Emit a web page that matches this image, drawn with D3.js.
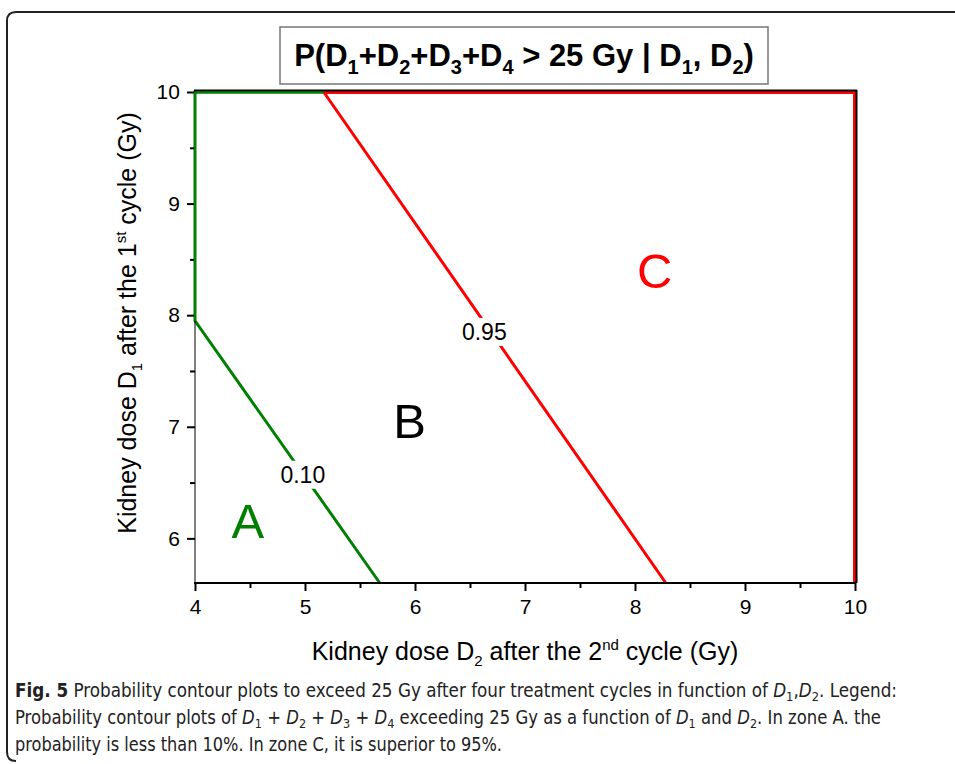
<!DOCTYPE html>
<html><head><meta charset="utf-8">
<script src="https://cdn.jsdelivr.net/npm/d3@7"></script>
<style>
body{margin:0;background:#fff;}
svg{display:block;font-family:"Liberation Sans",Arial,sans-serif;}
</style></head>
<body>
<svg id="chart" width="955" height="764"></svg>
<script>
// ---- data ----
const xTicks = [4,5,6,7,8,9,10];
const yTicks = [6,7,8,9,10];
const xDomain = [4,10];
const yDomain = [5.6,10];
// contour 0.10 (green): D2, D1 pairs
const contour010D2 = [5.17,4,4,5.68];
const contour010D1 = [10,10,7.95,5.6];
// contour 0.95 (red)
const contour095D2 = [5.17,8.28];
const contour095D1 = [10,5.6];
const contour095EdgeD2 = [5.17,10,10];
const contour095EdgeD1 = [10,10,5.6];
const contourLabels = ["0.10","0.95"];
const contourLabelD2 = [4.98,6.63];
const contourLabelD1 = [6.57,7.85];
const zoneNames = ["A","B","C"];
const zoneD2 = [4.48,5.95,8.18];
const zoneD1 = [6.0,6.9,8.24];

const svg = d3.select("#chart");
const W=955,H=764;
const m={l:195,r:855,t:92,b:583};
const x=d3.scaleLinear().domain(xDomain).range([m.l,m.r]);
const y=d3.scaleLinear().domain(yDomain).range([m.b,m.t]);

// outer frame with rounded left corners
svg.append("path")
 .attr("d",`M ${W+5} 12 L 16 12 Q 7 12 7 21 L 7 752 Q 7 761 16 761`)
 .attr("fill","none").attr("stroke","#222").attr("stroke-width",2);

// title box
svg.append("rect").attr("x",280).attr("y",27).attr("width",488).attr("height",57)
 .attr("fill","#fff").attr("stroke","#777").attr("stroke-width",1.5);
const tt=svg.append("text").attr("x",524).attr("y",66).attr("text-anchor","middle")
 .attr("font-size",31).attr("font-weight","bold");
const titleParts=[["P(D",""],["1","sub"],["+D",""],["2","sub"],["+D",""],["3","sub"],["+D",""],["4","sub"],[" > 25 Gy | D",""],["1","sub"],[", D",""],["2","sub"],[")",""]];
titleParts.forEach(([t,s],i)=>{
  const ts=tt.append("tspan").text(t);
  if(s==="sub"){ts.attr("font-size",20).attr("dy",8);}
  else if(i>0 && titleParts[i-1][1]==="sub"){ts.attr("dy",-8);}
});

// contour lines
const line=d3.line().x(d=>x(d[0])).y(d=>y(d[1]));
const g010=d3.zip(contour010D2,contour010D1);
const g095=d3.zip(contour095D2,contour095D1);
const g095e=d3.zip(contour095EdgeD2,contour095EdgeD1);
svg.append("path").attr("d",line(g095e)).attr("fill","none").attr("stroke","#ff0000").attr("stroke-width",4);
svg.append("path").attr("d",line(g010)).attr("fill","none").attr("stroke","#008000").attr("stroke-width",3);
svg.append("path").attr("d",line(g095)).attr("fill","none").attr("stroke","#ff0000").attr("stroke-width",3);

// axes
const xAxis=d3.axisBottom(x).tickValues(xTicks).tickSize(8).tickFormat(d3.format("d"));
const xMinor=d3.axisBottom(x).tickValues(d3.range(4.5,10,1)).tickSize(5).tickFormat("");
const yAxis=d3.axisLeft(y).tickValues(yTicks).tickSize(8).tickFormat(d3.format("d"));
const yMinor=d3.axisLeft(y).tickValues([6.5,7.5,8.5,9.5]).tickSize(5).tickFormat("");
function styleAx(g){g.attr("font-size",21).attr("font-family","Liberation Sans, Arial, sans-serif");
  g.select(".domain").remove();g.selectAll("line").attr("stroke","#000").attr("stroke-width",2);
  g.selectAll("text").attr("fill","#000");}
svg.append("g").attr("transform",`translate(0,${m.b})`).call(xAxis).call(styleAx).selectAll("text").attr("dy","0.95em");
svg.append("g").attr("transform",`translate(0,${m.b})`).call(xMinor).call(styleAx);
svg.append("g").attr("transform",`translate(${m.l},0)`).call(yAxis).call(styleAx).selectAll("text").attr("dx","-0.2em");
svg.append("g").attr("transform",`translate(${m.l},0)`).call(yMinor).call(styleAx);
// frame
svg.append("line").attr("x1",m.l-1).attr("x2",m.r+1).attr("y1",m.b).attr("y2",m.b).attr("stroke","#000").attr("stroke-width",2);
svg.append("line").attr("x1",m.l).attr("x2",m.l).attr("y1",m.t).attr("y2",m.b).attr("stroke","#000").attr("stroke-width",1);
svg.append("line").attr("x1",m.l).attr("x2",m.l).attr("y1",y(7.95)).attr("y2",m.t).attr("stroke","#008000").attr("stroke-width",2);
svg.append("line").attr("x1",m.l-1).attr("x2",m.r+2).attr("y1",m.t-1.5).attr("y2",m.t-1.5).attr("stroke","#000").attr("stroke-width",2);
svg.append("line").attr("x1",m.r+1.5).attr("x2",m.r+1.5).attr("y1",m.t-2).attr("y2",m.b).attr("stroke","#000").attr("stroke-width",2);
svg.append("line").attr("x1",m.l).attr("x2",x(5.17)).attr("y1",m.t+0.5).attr("y2",m.t+0.5).attr("stroke","#008000").attr("stroke-width",2);

// contour labels with white gaps
contourLabels.forEach((t,i)=>{
  const cx=x(contourLabelD2[i]), cy=y(contourLabelD1[i]);
  svg.append("rect").attr("x",cx-28).attr("y",cy-14).attr("width",56).attr("height",28).attr("fill","#fff");
  svg.append("text").attr("x",cx).attr("y",cy+8).attr("text-anchor","middle").attr("font-size",23).text(t);
});
// zone labels
const zoneColors=["#008000","#000","#ff0000"];
zoneNames.forEach((t,i)=>{
  svg.append("text").attr("x",x(zoneD2[i])).attr("y",y(zoneD1[i])).attr("text-anchor","middle")
   .attr("font-size",49).attr("fill",zoneColors[i]).text(t);
});

// axis titles
const xt=svg.append("text").attr("x",525).attr("y",660).attr("text-anchor","middle").attr("font-size",25);
xt.append("tspan").text("Kidney dose D");
xt.append("tspan").attr("font-size",15).attr("dy",6).text("2");
xt.append("tspan").attr("dy",-6).text(" after the 2");
xt.append("tspan").attr("font-size",15).attr("dy",-10).text("nd");
xt.append("tspan").attr("dy",10).text(" cycle (Gy)");
const yt=svg.append("text").attr("transform","translate(136,323) rotate(-90)").attr("text-anchor","middle").attr("font-size",25);
yt.append("tspan").text("Kidney dose D");
yt.append("tspan").attr("font-size",15).attr("dy",6).text("1");
yt.append("tspan").attr("dy",-6).text(" after the 1");
yt.append("tspan").attr("font-size",15).attr("dy",-10).text("st");
yt.append("tspan").attr("dy",10).text(" cycle (Gy)");

// caption
const capFont='"Liberation Sans Narrow","DejaVu Sans Condensed","Open Sans",sans-serif';
function capLine(yy,len,parts){
  const t=svg.append("text").attr("x",15).attr("y",yy).attr("font-size",19).attr("font-family",capFont)
    .attr("fill","#222").attr("textLength",len).attr("lengthAdjust","spacingAndGlyphs");
  parts.forEach(p=>{
    const s=t.append("tspan").text(p.t);
    if(p.b) s.attr("font-weight","bold");
    if(p.i) s.attr("font-style","italic");
    if(p.sub) s.attr("font-size",13).attr("dy",4);
    if(p.up) s.attr("dy",-4);
  });
}
capLine(697,882,[{t:"Fig. 5",b:1},{t:" Probability contour plots to exceed 25 Gy after four treatment cycles in function of "},
 {t:"D",i:1},{t:"1",sub:1},{t:",",up:1},{t:"D",i:1},{t:"2",sub:1},{t:". Legend:",up:1}]);
capLine(724,866,[{t:"Probability contour plots of "},{t:"D",i:1},{t:"1",sub:1},{t:" + ",up:1},{t:"D",i:1},{t:"2",sub:1},
 {t:" + ",up:1},{t:"D",i:1},{t:"3",sub:1},{t:" + ",up:1},{t:"D",i:1},{t:"4",sub:1},{t:" exceeding 25 Gy as a function of ",up:1},
 {t:"D",i:1},{t:"1",sub:1},{t:" and ",up:1},{t:"D",i:1},{t:"2",sub:1},{t:". In zone A. the",up:1}]);
capLine(751,487,[{t:"probability is less than 10%. In zone C, it is superior to 95%."}]);
</script>
</body></html>
